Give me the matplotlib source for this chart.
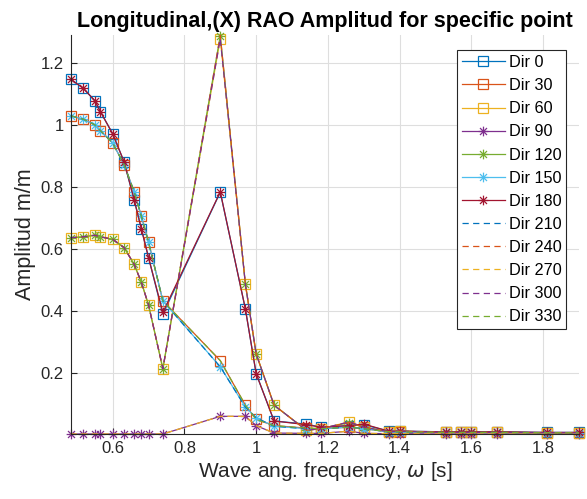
import numpy as np
import matplotlib.pyplot as plt
from matplotlib.path import Path

plt.rcParams['font.family'] = ['Liberation Sans', 'DejaVu Sans']

# Datos ──────────────────────────────────────────────────────────────────

omega = [0.483, 0.518, 0.550, 0.566, 0.600, 0.632, 0.660, 0.680, 0.700, 0.740,
         0.900, 0.970, 1.000, 1.050, 1.140, 1.180, 1.260, 1.300, 1.370, 1.400,
         1.530, 1.570, 1.600, 1.670, 1.810, 1.900]

dir_0   = [1.149, 1.120, 1.080, 1.044, 0.973, 0.882, 0.758, 0.666, 0.573, 0.390,
           0.784, 0.407, 0.198, 0.045, 0.035, 0.025, 0.030, 0.033, 0.012, 0.012,
           0.010, 0.010, 0.010, 0.010, 0.008, 0.008]
dir_30  = [1.031, 1.020, 1.002, 0.983, 0.943, 0.873, 0.785, 0.707, 0.623, 0.433,
           0.240, 0.096, 0.050, 0.030, 0.022, 0.020, 0.025, 0.020, 0.010, 0.010,
           0.008, 0.008, 0.008, 0.008, 0.007, 0.007]
dir_60  = [0.637, 0.640, 0.645, 0.640, 0.632, 0.605, 0.551, 0.493, 0.420, 0.214,
           1.280, 0.487, 0.262, 0.096, 0.015, 0.020, 0.042, 0.025, 0.010, 0.012,
           0.008, 0.008, 0.008, 0.008, 0.007, 0.007]
dir_90  = [0.003, 0.003, 0.003, 0.003, 0.003, 0.003, 0.003, 0.003, 0.003, 0.003,
           0.060, 0.060, 0.030, 0.006, 0.005, 0.005, 0.012, 0.005, 0.004, 0.004,
           0.003, 0.003, 0.003, 0.003, 0.003, 0.003]
dir_120 = [0.637, 0.640, 0.645, 0.640, 0.632, 0.605, 0.551, 0.493, 0.420, 0.214,
           1.290, 0.487, 0.262, 0.096, 0.015, 0.020, 0.040, 0.025, 0.010, 0.012,
           0.008, 0.008, 0.008, 0.008, 0.007, 0.007]
dir_150 = [1.031, 1.020, 1.002, 0.983, 0.943, 0.873, 0.785, 0.707, 0.623, 0.433,
           0.220, 0.090, 0.055, 0.028, 0.020, 0.020, 0.025, 0.020, 0.010, 0.010,
           0.008, 0.008, 0.008, 0.008, 0.007, 0.007]
dir_180 = [1.149, 1.120, 1.080, 1.044, 0.973, 0.882, 0.760, 0.666, 0.573, 0.396,
           0.785, 0.407, 0.198, 0.045, 0.033, 0.025, 0.030, 0.035, 0.012, 0.012,
           0.010, 0.010, 0.010, 0.010, 0.008, 0.008]
# direcciones simetricas (discontinuas)
dir_210 = dir_150
dir_240 = dir_120
dir_270 = dir_90
dir_300 = dir_60
dir_330 = dir_30

# asterisco estilo MATLAB (+ y x superpuestos)
d = 0.72
asterisco = Path([(-1, 0), (1, 0), (0, -1), (0, 1), (-d, -d), (d, d), (-d, d), (d, -d)],
                 [Path.MOVETO, Path.LINETO] * 4)

series = {
    "Dir 0":   (dir_0,   "s", "-"),
    "Dir 30":  (dir_30,  "s", "-"),
    "Dir 60":  (dir_60,  "s", "-"),
    "Dir 90":  (dir_90,  asterisco, "-"),
    "Dir 120": (dir_120, asterisco, "-"),
    "Dir 150": (dir_150, asterisco, "-"),
    "Dir 180": (dir_180, asterisco, "-"),
    "Dir 210": (dir_210, None, "--"),
    "Dir 240": (dir_240, None, "--"),
    "Dir 270": (dir_270, None, "--"),
    "Dir 300": (dir_300, None, "--"),
    "Dir 330": (dir_330, None, "--"),
}

colores = ["#0072BD", "#D95319", "#EDB120", "#7E2F8E", "#77AC30", "#4DBEEE", "#A2142F"]

# Figura ──────────────────────────────────────────────

fig = plt.figure(figsize=(5.87, 4.99), dpi=100)
ax = fig.add_axes([0.1204, 0.1303, 0.8660, 0.7996])

for i, (nombre, (vals, mk, ls)) in enumerate(series.items()):
    cor = colores[i % len(colores)]
    ax.plot(omega, vals, ls=ls, color=cor, lw=0.9, marker=mk,
            ms=6.5 if isinstance(mk, str) else 7, mfc="none", mew=0.9,
            dashes=(5, 3.5) if ls == "--" else (None, None),
            label=nombre, clip_on=False)

ax.set_xlim(0.483, 1.90)
ax.set_ylim(0.003, 1.292)
ax.set_xticks([0.6, 0.8, 1.0, 1.2, 1.4, 1.6, 1.8])
ax.set_xticklabels(["0.6", "0.8", "1", "1.2", "1.4", "1.6", "1.8"])
ax.set_yticks([0.2, 0.4, 0.6, 0.8, 1.0, 1.2])
ax.set_yticklabels(["0.2", "0.4", "0.6", "0.8", "1", "1.2"])
ax.tick_params(direction="in", labelsize=12, colors="#262626", length=4, pad=5)
ax.grid(True, color="#dedede", lw=0.8)
ax.set_axisbelow(True)
for s in ["top", "right"]:
    ax.spines[s].set_visible(False)
for s in ["left", "bottom"]:
    ax.spines[s].set_color("#262626")
    ax.spines[s].set_linewidth(0.8)

ax.set_title("Longitudinal,(X) RAO Amplitud for specific point",
             fontsize=15.5, fontweight="bold", pad=6)
ax.set_xlabel(r"Wave ang. frequency, $\omega$ [s]", fontsize=15, color="#262626", labelpad=3)
ax.set_ylabel("Amplitud m/m", fontsize=15.5, color="#262626", labelpad=3)

leg = ax.legend(loc="upper right", bbox_to_anchor=(0.975, 0.962), fontsize=11.7,
                handlelength=2.7, handletextpad=0.2, labelspacing=0.5,
                borderpad=0.3, borderaxespad=0, fancybox=False, framealpha=1,
                edgecolor="#262626")
leg.get_frame().set_linewidth(0.8)

plt.savefig("out.png", dpi=100)
plt.close()
